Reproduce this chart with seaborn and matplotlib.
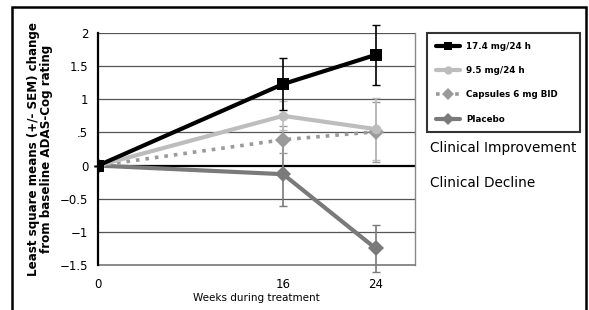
import matplotlib
matplotlib.use('Agg')
import matplotlib.pyplot as plt
import seaborn as sns
import pandas as pd
from matplotlib.lines import Line2D
from matplotlib.patches import Rectangle

weeks = [0, 16, 24]
groups = ['17.4 mg/24 h', '9.5 mg/24 h', 'Capsules 6 mg BID', 'Placebo']
means = {
    '17.4 mg/24 h':      [0, 1.23, 1.67],
    '9.5 mg/24 h':       [0, 0.75, 0.55],
    'Capsules 6 mg BID': [0, 0.39, 0.51],
    'Placebo':           [0, -0.13, -1.25],
}
sem = {
    '17.4 mg/24 h':      [0, 0.39, 0.45],
    '9.5 mg/24 h':       [0, 0.22, 0.47],
    'Capsules 6 mg BID': [0, 0.20, 0.45],
    'Placebo':           [0, 0.48, 0.35],
}
yticks = [-1.5, -1, -0.5, 0, 0.5, 1, 1.5, 2]
ytick_labels = ['\u22121.5', '\u22121', '\u22120.5', '0', '.5', '1', '1.5', '2']

colors = {'17.4 mg/24 h': 'black', '9.5 mg/24 h': '#bdbdbd',
          'Capsules 6 mg BID': '#9a9a9a', 'Placebo': '#7a7a7a'}
markers = {'17.4 mg/24 h': 's', '9.5 mg/24 h': 'o',
           'Capsules 6 mg BID': 'D', 'Placebo': 'D'}
styles = {'17.4 mg/24 h': '-', '9.5 mg/24 h': '-',
          'Capsules 6 mg BID': ':', 'Placebo': '-'}

rows = []
for g in groups:
    for w, m, s in zip(weeks, means[g], sem[g]):
        rows.append({'week': w, 'group': g, 'mean': m, 'sem': s})
df = pd.DataFrame(rows)

sns.set_style('white')
plt.rcParams['font.family'] = ['DejaVu Sans']
plt.rcParams['text.color'] = 'black'
plt.rcParams['axes.labelcolor'] = 'black'
plt.rcParams['xtick.color'] = 'black'
plt.rcParams['ytick.color'] = 'black'

fig = plt.figure(figsize=(5.89, 3.10), dpi=100)
ax = fig.add_axes([98/589, 1 - 265/310, (415-98)/589, (265-33)/310])

for y in yticks:
    if y == 0:
        ax.axhline(0, color='black', lw=1.6, zorder=1)
    elif y > -1.5:
        ax.axhline(y, color='#555555', lw=0.9, zorder=1)

# draw in reverse so the black line sits on top
for g in groups[::-1]:
    d = df[df['group'] == g]
    eb = ax.errorbar(d['week'], d['mean'], yerr=d['sem'], fmt='none',
                     ecolor=colors[g], elinewidth=1.2, capsize=3,
                     linestyle=':' if g == 'Capsules 6 mg BID' else '-', zorder=2)
    for art in eb.lines[1] + eb.lines[2]:
        art.set_clip_on(False)
    sns.lineplot(data=d, x='week', y='mean', ax=ax, color=colors[g],
                 linestyle=styles[g], lw=3 if g != 'Capsules 6 mg BID' else 2.6,
                 marker=markers[g], markersize=8 if markers[g] != 'o' else 7,
                 markeredgewidth=0, legend=False, zorder=3)

ax.set_xlim(0, 27.4)
ax.set_ylim(-1.5, 2)
ax.set_xticks([0, 16, 24, 27.4])
ax.set_xticklabels(['0', '16', '24', ''], fontsize=8.5)
ax.set_yticks(yticks)
ax.set_yticklabels(ytick_labels, fontsize=8.5)
ax.tick_params(axis='both', direction='out', length=4, width=1, color='#333333', pad=3)
ax.tick_params(axis='x', pad=5)

ax.spines['top'].set_visible(False)
ax.spines['left'].set_color('black')
ax.spines['left'].set_linewidth(1.6)
ax.spines['bottom'].set_color('#777777')
ax.spines['bottom'].set_linewidth(1.2)
ax.spines['right'].set_color('#888888')
ax.spines['right'].set_linewidth(1)
ax.spines['left'].set_zorder(4)

ax.set_xlabel('Weeks during treatment', fontsize=7.5, labelpad=2)
ax.set_ylabel('Least square means (+/- SEM) change\nfrom baseline ADAS-Cog rating',
              fontsize=8.6, fontweight='bold', labelpad=5, linespacing=0.95)

handles = [Line2D([0], [0], color=colors[g], lw=3 if g != 'Capsules 6 mg BID' else 2.6,
                  linestyle=styles[g], marker=markers[g], markersize=6,
                  markeredgewidth=0) for g in groups]
leg = fig.legend(handles, groups, loc='upper left', mode='expand',
                 bbox_to_anchor=(427/589, 1 - 130/310, 153/589, 97/310),
                 borderaxespad=0, prop={'size': 6.3, 'weight': 'bold'},
                 frameon=True, fancybox=False, edgecolor='black',
                 handlelength=2.8, labelspacing=1.75, borderpad=1.0,
                 handletextpad=0.7)
leg.get_frame().set_linewidth(1.5)

fig.text(430/589, 1 - 148/310, 'Clinical Improvement', fontsize=9.8, va='center')
fig.text(430/589, 1 - 183/310, 'Clinical Decline', fontsize=9.8, va='center')

fig.patches.append(Rectangle((12/589, -0.1), (586-12)/589, 1.1 - 7/310,
                             transform=fig.transFigure, fill=False,
                             edgecolor='black', lw=1.8))

fig.savefig('out.png', dpi=100)
